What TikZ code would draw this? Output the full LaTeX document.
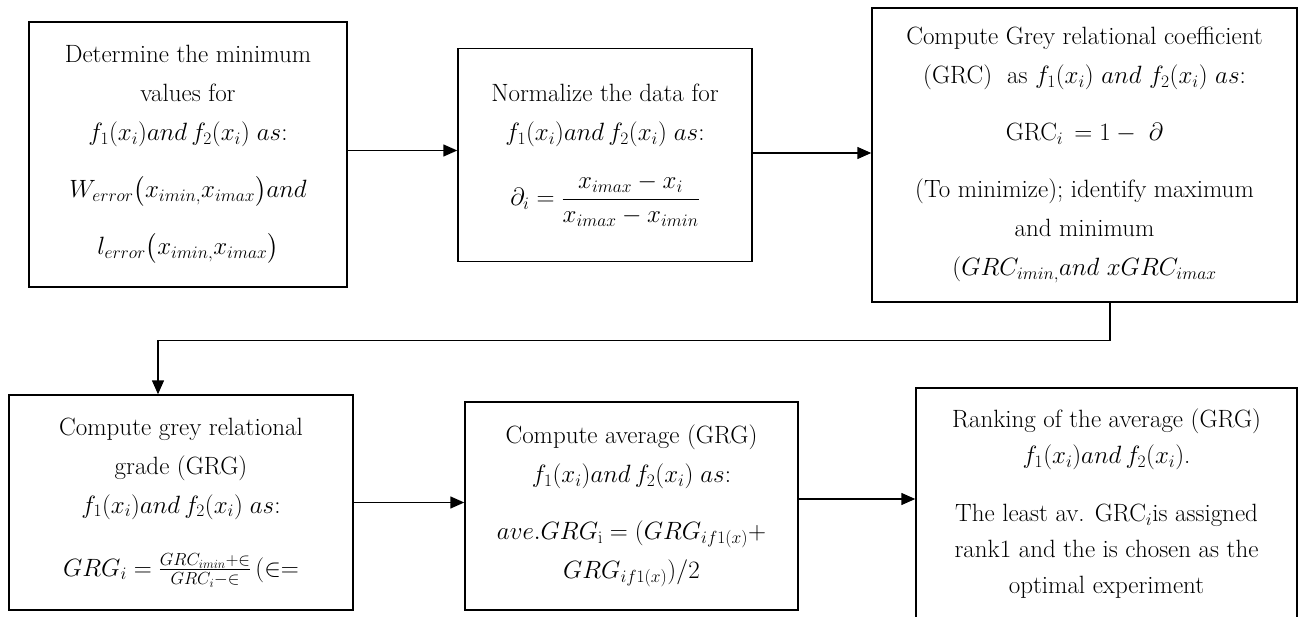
\RequirePackage{fix-cm}
\documentclass[tikz,border=0pt]{standalone}
\usepackage{amsmath}
\usetikzlibrary{arrows.meta}
\tikzset{
  box/.style={draw, line width=1.5pt, align=center, inner sep=0pt,
    font=\fontsize{25}{39}\selectfont},
  txt/.style={align=center, inner sep=0pt, font=\fontsize{25}{36}\selectfont},
  arr/.style={line width=1.5pt, -{Triangle[length=14pt,width=12pt]}}
}
\begin{document}
\begin{tikzpicture}[x=1pt,y=-1pt]
\useasboundingbox (0,0) rectangle (1303,617);
\clip (0,0) rectangle (1303,617);
\fill[white] (0,0) rectangle (1303,617);

\node[box, minimum width=318pt, minimum height=265pt] (b1) at (188,154.5)
 {Determine the minimum\\ values for\\ $f_1(x_i)and\,f_2(x_i)\;as$:\\[18pt]
  $W_{error}\bigl(x_{imin,}x_{imax}\bigr)and$\\[18pt]
  $l_{error}\bigl(x_{imin,}x_{imax}\bigr)$};

\node[box, minimum width=294pt, minimum height=213pt] (b2) at (605,155)
 {Normalize the data for\\ $f_1(x_i)and\,f_2(x_i)\;as$:\\[26pt]
  $\partial_i=\dfrac{x_{imax}-x_i}{x_{imax}-x_{imin}}$};

\node[box, minimum width=425pt, minimum height=294pt] (b3) at (1084.5,155)
 {Compute Grey relational coefficient\\
  (GRC)\ \ as $f_1(x_i)\ and\ f_2(x_i)\ as$:\\[18pt]
  $\mathrm{GRC}_i\,=1-\ \partial$\\[18pt]
  (To minimize); identify maximum\\ and minimum\\
  $(GRC_{imin,}and\ xGRC_{imax}$};

\node[box, minimum width=344pt, minimum height=215pt] (b4) at (181,502.5)
 {Compute grey relational\\ grade (GRG)\\ $f_1(x_i)and\,f_2(x_i)\;as$:\\[24pt]
  $GRG_i=\frac{GRC_{imin}+\in}{GRC_i-\in}\,(\in=$};

\node[box, minimum width=333pt, minimum height=208pt] (b5) at (631.5,506)
 {Compute average (GRG)\\ $f_1(x_i)and\,f_2(x_i)\;as$:\\[18pt]
  $ave.GRG_{\mathrm{i}}=(GRG_{if1(x)}+$\\ $GRG_{if1(x)})/2$};

\node[box, minimum width=381pt, minimum height=252pt] (b6) at (1106.5,514) {};
\node[txt] (t6) at (1106.5,504)
 {Ranking of the average (GRG)\\ $f_1(x_i)and\,f_2(x_i)$.\\[22pt]
  The least av. GRC$_i$is assigned\\ rank1 and the is chosen as the\\
  optimal experiment};

\draw[arr] ([yshift=4pt]b1.east) -- ([yshift=4pt]b1.east -| b2.west);
\draw[arr] ([yshift=2pt]b2.east) -- ([yshift=2pt]b2.east -| b3.west);
\draw[arr] ([xshift=25.5pt]b3.south) -- ++(0,38) -| ([xshift=-23pt]b4.north);
\draw[arr] (b4.east) -- (b4.east -| b5.west);
\draw[arr] ([yshift=7pt]b5.east) -- ([yshift=7pt]b5.east -| b6.west);
\end{tikzpicture}
\end{document}
